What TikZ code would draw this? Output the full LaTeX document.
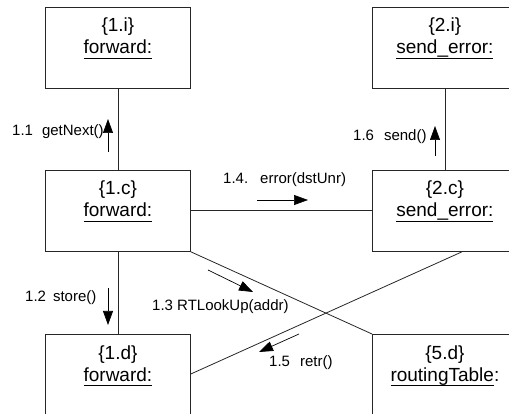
\documentclass[tikz,border=0pt]{standalone}
\usepackage{fontspec}
\setmainfont{Liberation Sans}
\usetikzlibrary{arrows.meta,calc}
\newcommand{\ulx}[1]{\setbox0\hbox{#1}\leavevmode\rlap{\rule[-4.6pt]{\wd0}{1pt}}\box0}
\begin{document}
\begin{tikzpicture}[x=1pt,y=-1pt,
  obj/.style={draw=black!85, line width=0.8pt, minimum width=145pt, minimum height=81pt, inner sep=0pt, anchor=north west},
  objcut/.style={obj, minimum height=95pt},
  ttl/.style={font=\fontsize{19}{23}\selectfont, anchor=base, inner sep=0pt},
  lbl/.style={font=\fontsize{15}{18}\selectfont, anchor=west, inner sep=0pt},
  link/.style={draw=black!85, line width=0.8pt},
  msg/.style={line width=0.7pt, -{Triangle[length=14pt,width=10pt]}}]
\useasboundingbox (0,0) rectangle (509,414);
% boxes
\node[obj] (i1) at (45,7) {};
\node[obj] (i2) at (372,7) {};
\node[obj] (c1) at (45,170) {};
\node[obj] (c2) at (372,170) {};
\node[objcut] (d1) at (45,334) {};
\node[objcut] (d5) at (372,334) {};
% titles
\node[ttl] (i1a) at ($(i1.north)+(0,25)$) {\{1.i\}};
\node[ttl] (i1b) at ($(i1.north)+(0,47)$) {\ulx{forward:}};
\node[ttl] (i2a) at ($(i2.north)+(0,25)$) {\{2.i\}};
\node[ttl] (i2b) at ($(i2.north)+(0,47)$) {\ulx{send\_error:}};
\node[ttl] (c1a) at ($(c1.north)+(0,25)$) {\{1.c\}};
\node[ttl] (c1b) at ($(c1.north)+(0,47)$) {\ulx{forward:}};
\node[ttl] (c2a) at ($(c2.north)+(0,25)$) {\{2.c\}};
\node[ttl] (c2b) at ($(c2.north)+(0,47)$) {\ulx{send\_error:}};
\node[ttl] (d1a) at ($(d1.north)+(0,25)$) {\{1.d\}};
\node[ttl] (d1b) at ($(d1.north)+(0,47)$) {\ulx{forward:}};
\node[ttl] (d5a) at ($(d5.north)+(0,25)$) {\{5.d\}};
\node[ttl] (d5b) at ($(d5.north)+(0,47)$) {\ulx{routingTable}:};
% links
\draw[link] (i1) -- (c1);
\draw[link] (i2) -- (c2);
\draw[link] (c1) -- (c2);
\draw[link] (c1) -- (d1);
\draw[link] (c1.south east) -- (d5.north west);
\coordinate (p1) at ($(c2.south west)+(90,0)$);
\coordinate (p2) at ($(d1.north east)+(0,40)$);
\draw[link] (p1) -- (p2);
% messages
\coordinate (m11s) at (108,152); \coordinate (m11e) at (108,119);
\draw[msg] (m11s) -- (m11e);
\node[lbl] (l11) at (12,132) {1.1\hspace{9pt}getNext()};
\coordinate (m16s) at (435,156); \coordinate (m16e) at (435,126);
\draw[msg] (m16s) -- (m16e);
\node[lbl] (l16) at (353,137) {1.6\hspace{10pt}send()};
\coordinate (m14s) at (257,200); \coordinate (m14e) at (308,200);
\draw[msg] (m14s) -- (m14e);
\node[lbl] (l14) at (223,180) {1.4.\hspace{12pt}error(dstUnr)};
\coordinate (m12s) at (108,288); \coordinate (m12e) at (108,325);
\draw[msg] (m12s) -- (m12e);
\node[lbl] (l12) at (25,298) {1.2\hspace{7pt}store()};
\coordinate (m13s) at (208,270); \coordinate (m13e) at (253,292);
\draw[msg] (m13s) -- (m13e);
\node[lbl] (l13) at (152,307) {1.3 RTLookUp(addr)};
\coordinate (m15s) at (299,334); \coordinate (m15e) at (259,352);
\draw[msg] (m15s) -- (m15e);
\node[lbl] (l15) at (269,363) {1.5\hspace{10pt}retr()};
\end{tikzpicture}
\end{document}
